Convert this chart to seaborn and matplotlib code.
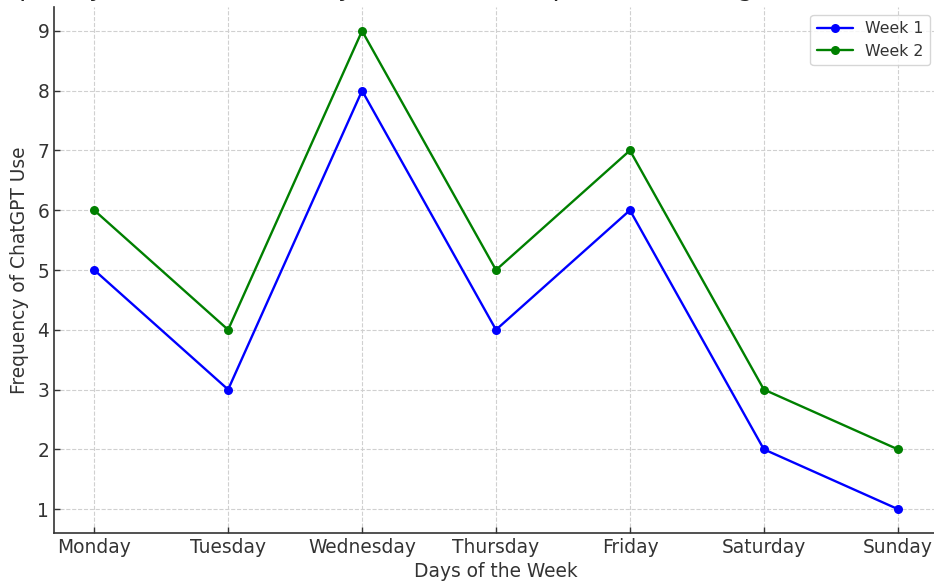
import pandas as pd
import seaborn as sns
import matplotlib.pyplot as plt

days = ["Monday", "Tuesday", "Wednesday", "Thursday", "Friday", "Saturday", "Sunday"]
week1 = [5, 3, 8, 4, 6, 2, 1]
week2 = [6, 4, 9, 5, 7, 3, 2]
weeks = ["Week 1", "Week 2"]
colors = ["blue", "green"]

df = pd.DataFrame({
    "Day": days * 2,
    "Frequency": week1 + week2,
    "Week": [weeks[0]] * len(days) + [weeks[1]] * len(days),
})

sns.set_style("whitegrid")
plt.rcParams["font.family"] = ["DejaVu Sans"]

W, H = 934, 583
fig = plt.figure(figsize=(W / 100, H / 100), dpi=100)
ax = fig.add_axes([54 / W, 50 / H, 884 / W, 526 / H])

sns.lineplot(data=df, x="Day", y="Frequency", hue="Week", palette=colors,
             marker="o", markersize=6.5, markeredgewidth=0, linewidth=1.7, ax=ax)

ax.set_ylim(0.6, 9.4)
ax.set_yticks(range(1, 10))
ax.grid(True, linestyle="--", color="#d0d0d0", linewidth=0.8)
for s in ["top", "right"]:
    ax.spines[s].set_visible(False)
for s in ["left", "bottom"]:
    ax.spines[s].set_color("#333333")
    ax.spines[s].set_linewidth(1.2)
ax.tick_params(direction="in", length=4, width=1, colors="#333333",
               labelsize=13.4, left=True, bottom=True)
ax.set_xlabel("Days of the Week", fontsize=13.4, color="#333333", labelpad=4)
ax.set_ylabel("Frequency of ChatGPT Use", fontsize=13.4, color="#333333", labelpad=6)

leg = ax.legend(loc="upper right", fontsize=11.3, frameon=True, framealpha=0.8,
                handlelength=2.3)
leg.get_frame().set_edgecolor("#cccccc")
for t in leg.get_texts():
    t.set_color("#333333")

# title sits mostly above the visible area, only descenders show
fig.text(496 / W, (H + 5) / H,
         "Frequency of ChatGPT Use by Students: Comparison of Usage, Week 1 vs Week 2",
         ha="center", va="baseline", fontsize=18.5, color="#222222")

fig.savefig("out.png", dpi=100)
